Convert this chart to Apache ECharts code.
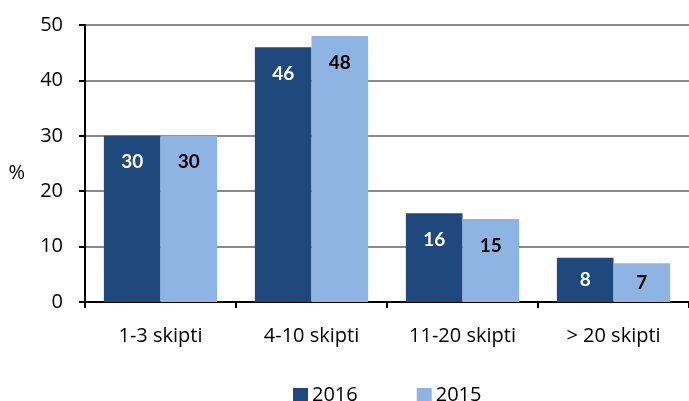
<!DOCTYPE html>
<html>
<head>
<meta charset="utf-8">
<script src="https://cdn.jsdelivr.net/npm/echarts@6/dist/echarts.min.js"></script>
<style>
  html, body { margin: 0; padding: 0; background: #fff; }
  #chart { width: 689px; height: 401px; }
</style>
</head>
<body>
<div id="chart"></div>
<script>
// Number of ships per company, share in %
const categories = ['1-3 skipti', '4-10 skipti', '11-20 skipti', '> 20 skipti'];
const values2016 = [30, 46, 16, 8];
const values2015 = [30, 48, 15, 7];
const yTicks = [0, 10, 20, 30, 40, 50];

const FONT = '"Open Sans", Lato, sans-serif';
const LABEL_FONT = 'Lato, "Open Sans", sans-serif';

// Short bars get their label centred, taller ones near the top
function barData(values) {
  return values.map(v => ({
    value: v,
    label: v < 10 ? { position: 'inside' } : { position: 'insideTop', distance: 17 }
  }));
}

const chart = echarts.init(document.getElementById('chart'));
chart.setOption({
  animation: false,
  textStyle: { fontFamily: FONT },
  grid: { left: 85, top: 25, width: 610, height: 277, containLabel: false },
  legend: {
    bottom: -9,
    left: 288,
    itemWidth: 15,
    itemHeight: 14,
    itemGap: 59,
    icon: 'rect',
    textStyle: { fontSize: 20, color: '#000', fontFamily: FONT, padding: [0, 0, 0, -1] },
    data: ['2016', '2015']
  },
  xAxis: {
    type: 'category',
    data: categories,
    axisLine: { lineStyle: { color: '#000', width: 2 } },
    axisTick: { show: true, length: 6, lineStyle: { color: '#000', width: 2 } },
    axisLabel: { fontSize: 20, color: '#000', margin: 24, fontFamily: FONT }
  },
  yAxis: {
    type: 'value',
    min: yTicks[0],
    max: yTicks[yTicks.length - 1],
    interval: 10,
    name: '%',
    nameLocation: 'middle',
    nameRotate: 0,
    nameGap: 60,
    nameTextStyle: { fontSize: 20, color: '#000', fontFamily: FONT, verticalAlign: 'top' },
    axisLine: { show: true, lineStyle: { color: '#000', width: 2 } },
    axisTick: { show: true, length: 6, lineStyle: { color: '#000', width: 2 } },
    axisLabel: { fontSize: 20, color: '#000', margin: 22, fontFamily: FONT },
    splitLine: { lineStyle: { color: '#8a8a8a', width: 2 } }
  },
  series: [
    {
      name: '2016',
      type: 'bar',
      data: barData(values2016),
      barGap: '0%',
      barCategoryGap: '25%',
      itemStyle: { color: '#1F497D' },
      label: { show: true, color: '#fff', fontWeight: 'bold', fontSize: 19, fontFamily: LABEL_FONT }
    },
    {
      name: '2015',
      type: 'bar',
      data: barData(values2015),
      barGap: '0%',
      barCategoryGap: '25%',
      itemStyle: { color: '#8EB4E3' },
      label: { show: true, color: '#000', fontWeight: 'bold', fontSize: 19, fontFamily: LABEL_FONT }
    }
  ]
});
</script>
</body>
</html>
